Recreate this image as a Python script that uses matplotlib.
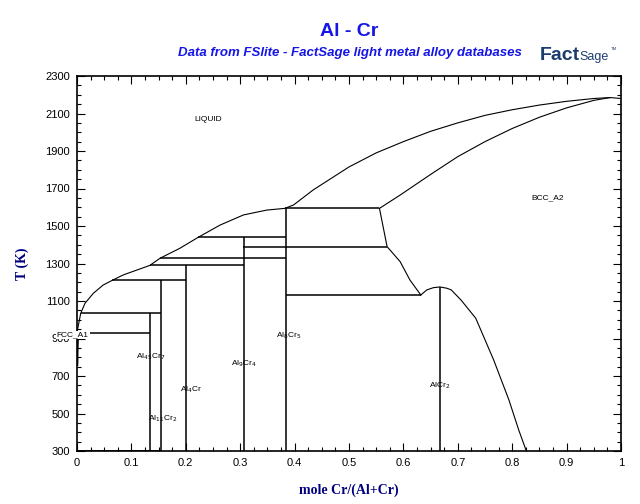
import matplotlib
matplotlib.use("Agg")
import matplotlib.pyplot as plt
from matplotlib.ticker import MultipleLocator, FixedLocator, FixedFormatter

# ---------------- data (mole fraction Cr, T in K) ----------------
liquidus_x = [0.0, 0.0068, 0.0147, 0.030, 0.048, 0.064, 0.085, 0.110, 0.134, 0.1526,
              0.189, 0.223, 0.263, 0.306, 0.349, 0.382, 0.398, 0.434, 0.50, 0.55,
              0.60, 0.65, 0.70, 0.75, 0.80, 0.85, 0.90, 0.95, 0.98, 1.0]
liquidus_T = [933, 1034, 1088, 1141, 1185, 1209, 1239, 1265, 1290, 1328,
              1381, 1440, 1505, 1559, 1585, 1594, 1612, 1692, 1815, 1890,
              1950, 2005, 2050, 2090, 2120, 2145, 2165, 2180, 2185, 2180]

solidus_x = [0.556, 0.594, 0.65, 0.70, 0.75, 0.80, 0.85, 0.90, 0.95, 0.98]
solidus_T = [1594, 1665, 1775, 1870, 1950, 2020, 2080, 2130, 2170, 2185]

bcc_x = [0.556, 0.570, 0.594, 0.612, 0.632]
bcc_T = [1594, 1390, 1310, 1212, 1132]

dome_x = [0.632, 0.643, 0.655, 0.667, 0.680, 0.688, 0.706, 0.733, 0.766, 0.794, 0.812, 0.826]
dome_T = [1132, 1159, 1171, 1175, 1168, 1159, 1105, 1008, 785, 572, 412, 300]

fcc_x = [0.002, 0.001, 0.0005]
fcc_T = [933, 850, 760]

# invariant (horizontal) lines: T, x_start, x_end
inv_T = [302, 928, 1034, 1210, 1290, 1328, 1390, 1440, 1594, 1130]
inv_x0 = [0.0, 0.0, 0.0068, 0.064, 0.134, 0.1526, 0.306, 0.223, 0.382, 0.3846]
inv_x1 = [0.1538, 0.1346, 0.1538, 0.200, 0.3077, 0.3846, 0.570, 0.3846, 0.556, 0.632]

# compound lines: x, T_top
comp_x = [0.1346, 0.1538, 0.200, 0.3077, 0.3846, 0.6667]
comp_Ttop = [1034, 1210, 1290, 1440, 1594, 1175]

# labels
label_text = ["LIQUID", "BCC_A2", "FCC_A1", "Al$_{45}$Cr$_7$", "Al$_{11}$Cr$_2$",
              "Al$_4$Cr", "Al$_9$Cr$_4$", "Al$_8$Cr$_5$", "AlCr$_2$"]
label_x = [0.215, 0.835, -0.037, 0.108, 0.130, 0.189, 0.283, 0.366, 0.647]
label_T = [2070, 1650, 918, 801, 471, 625, 764, 913, 647]

xticks = [0, 0.1, 0.2, 0.3, 0.4, 0.5, 0.6, 0.7, 0.8, 0.9, 1.0]
xticklabels = ["0", "0.1", "0.2", "0.3", "0.4", "0.5", "0.6", "0.7", "0.8", "0.9", "1"]
yticks = [300, 500, 700, 900, 1100, 1300, 1500, 1700, 1900, 2100, 2300]

# ---------------- figure ----------------
plt.rcParams['font.family'] = ['Liberation Sans', 'DejaVu Sans']
fig = plt.figure(figsize=(6.4, 5.04), dpi=100)
ax = fig.add_axes([77/640, 53/504, 544/640, 375/504])

thin = 0.8
thick = 1.1
ax.plot(liquidus_x, liquidus_T, color='black', lw=thin)
ax.plot(solidus_x, solidus_T, color='black', lw=thin)
ax.plot(bcc_x, bcc_T, color='black', lw=thin)
ax.plot(dome_x, dome_T, color='black', lw=thin)
ax.plot(fcc_x, fcc_T, color='black', lw=1.5)

for T, a, b in zip(inv_T, inv_x0, inv_x1):
    ax.plot([a, b], [T, T], color='black', lw=thick if T > 310 else 2.0,
            solid_capstyle='butt')
for x, t in zip(comp_x, comp_Ttop):
    ax.plot([x, x], [300, t], color='black', lw=thick, solid_capstyle='butt')

for s, x, T in zip(label_text, label_x, label_T):
    kw = {}
    if s == "FCC_A1":
        kw = dict(bbox=dict(facecolor='white', edgecolor='none', pad=0.5), zorder=5)
    ax.text(x, T, s, fontsize=6, ha='left', va='center', clip_on=False, **kw)

ax.set_xlim(0, 1)
ax.set_ylim(300, 2300)
ax.xaxis.set_major_locator(FixedLocator(xticks))
ax.xaxis.set_major_formatter(FixedFormatter(xticklabels))
ax.xaxis.set_minor_locator(MultipleLocator(0.025))
ax.yaxis.set_major_locator(FixedLocator(yticks))
ax.yaxis.set_minor_locator(MultipleLocator(50))
ax.tick_params(which='both', direction='in', top=True, right=True, labelsize=8,
               width=0.8)
ax.tick_params(which='major', length=6, pad=5)
ax.tick_params(which='minor', length=3)
for sp in ax.spines.values():
    sp.set_linewidth(1.2)

ax.set_xlabel("mole Cr/(Al+Cr)", family=['Liberation Serif'], fontweight='bold',
              fontsize=10, color='#000080', labelpad=11)
ax.set_ylabel("T (K)", family=['Liberation Serif'], fontweight='bold',
              fontsize=10, color='#000080', labelpad=12)

fig.text(349/640, 1 - 32/504, "Al - Cr", ha='center', va='center', fontsize=14,
         fontweight='bold', color='#1515e6')
fig.text(350/640, 1 - 53/504, "Data from FSlite - FactSage light metal alloy databases",
         ha='center', va='center', fontsize=9.5, fontweight='bold', style='italic',
         color='#1515e6')
fig.text(540/640, 1 - 56/504, "Fact", ha='left', va='center', fontsize=14,
         fontweight='bold', color='#1d3c6e')
fig.text(579/640, 1 - 57/504, "Sage", ha='left', va='center', fontsize=9,
         color='#1d3c6e', family=['Liberation Sans Narrow', 'Liberation Sans'])
fig.text(611/640, 1 - 49/504, "TM", ha='left', va='center', fontsize=3,
         color='#1d3c6e')

fig.savefig("out.png", dpi=100)
